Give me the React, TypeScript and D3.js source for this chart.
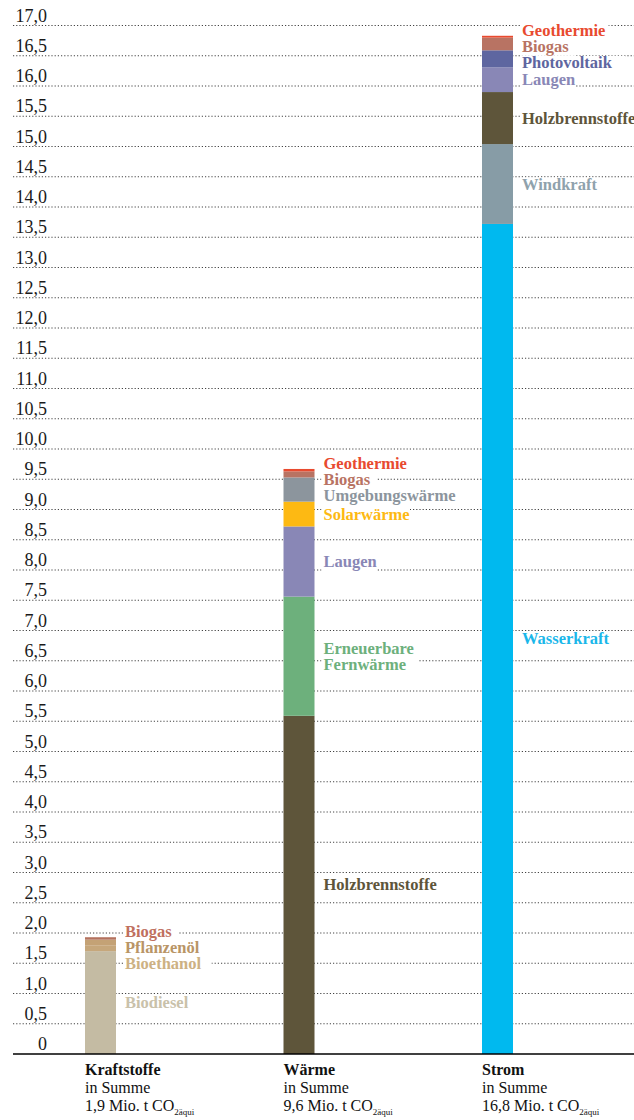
import React from "react";
import * as d3 from "d3";

const categories = ["Kraftstoffe", "Wärme", "Strom"];
const totalLabels = ["1,9", "9,6", "16,8"];

const kraftstoffeSources = ["Biodiesel", "Bioethanol", "Pflanzenöl", "Biogas"];
const kraftstoffeValues = [1.7, 0.09, 0.1, 0.04];
const kraftstoffeColors = ["#c4bba3", "#c6a77b", "#c4a275", "#b4725e"];
const kraftstoffeLabelColors = ["#c9c1aa", "#cdb183", "#b99566", "#c0705f"];

const waermeSources = ["Holzbrennstoffe", "Erneuerbare\nFernwärme", "Laugen", "Solarwärme", "Umgebungswärme", "Biogas", "Geothermie"];
const waermeValues = [5.59, 1.97, 1.16, 0.41, 0.4, 0.1, 0.04];
const waermeColors = ["#5e553a", "#6db07c", "#8987b6", "#fdb913", "#8c959d", "#b87363", "#e84a2f"];
const waermeLabelColors = ["#5e553a", "#6db07c", "#8987b6", "#fdb913", "#8c959d", "#b87363", "#e84a2f"];

const stromSources = ["Wasserkraft", "Windkraft", "Holzbrennstoffe", "Laugen", "Photovoltaik", "Biogas", "Geothermie"];
const stromValues = [13.72, 1.32, 0.86, 0.41, 0.28, 0.21, 0.03];
const stromColors = ["#00b9ef", "#879ca6", "#5e553a", "#8987b6", "#5e66a0", "#b87363", "#e84a2f"];
const stromLabelColors = ["#1bb7ea", "#8fa2ac", "#5e553a", "#8987b6", "#5e66a0", "#b87363", "#e84a2f"];

const yTicks = d3.range(0, 17.01, 0.5);

const W = 634;
const H = 1120;
const SERIF = "'Liberation Serif', 'Times New Roman', serif";

const groups = [
  { sources: kraftstoffeSources, values: kraftstoffeValues, colors: kraftstoffeColors, labelColors: kraftstoffeLabelColors },
  { sources: waermeSources, values: waermeValues, colors: waermeColors, labelColors: waermeLabelColors },
  { sources: stromSources, values: stromValues, colors: stromColors, labelColors: stromLabelColors },
];

export default function App() {
  const y = d3.scaleLinear().domain([0, 17]).range([1054, 25.5]);
  const x = d3.scalePoint<string>().domain(categories).range([100.5, 497.5]);
  const barW = 31;
  const gridX0 = 13;
  const labelFont = 16.5;
  const lineStep = 16;
  const fmt = (v: number) => (v === 0 ? "0" : d3.format(".1f")(v).replace(".", ","));

  const bars: any[] = [];
  const labels: any[] = [];

  groups.forEach((g, gi) => {
    const cat = categories[gi];
    const cx = x(cat)!;
    const x0 = cx - barW / 2;
    const ends = Array.from(d3.cumsum(g.values));
    const segs = g.values.map((v, i) => {
      const lo = i === 0 ? 0 : ends[i - 1];
      const hi = ends[i];
      return { name: g.sources[i], color: g.colors[i], labelColor: g.labelColors[i], y0: y(hi), y1: y(lo) };
    });
    segs.forEach((s, i) => bars.push({ key: `${gi}-${i}`, x: x0, y: s.y0, h: s.y1 - s.y0, color: s.color }));

    // label layout: top-down
    const ordered = segs.slice().reverse();
    let prev = -Infinity;
    let prevLines = 0;
    ordered.forEach((s, i) => {
      const lines = s.name.split("\n");
      const center = (s.y0 + s.y1) / 2;
      const ideal = center - ((lines.length - 1) * lineStep) / 2 + 5.5;
      let b: number;
      if (i === 0 && s.y1 - s.y0 < lineStep) b = s.y0;
      else b = Math.max(ideal, prev + prevLines * lineStep);
      prev = b;
      prevLines = lines.length;
      labels.push({ key: `${gi}-l${i}`, x: x0 + barW + 9, baseline: b, lines, color: s.labelColor });
    });
  });

  return (
    <svg width={W} height={H} style={{ position: "absolute", left: 0, top: 0, background: "#fff" }}>
      <rect x={0} y={0} width={W} height={H} fill="#fff" />
      {/* grid */}
      {yTicks.filter((t) => t > 0).map((t) => (
        <line key={`g${t}`} x1={gridX0} x2={W} y1={y(t)} y2={y(t)} stroke="#444" strokeWidth={1.1} strokeDasharray="1.2,2" />
      ))}
      {/* tick labels */}
      {yTicks.map((t) => (
        <text key={`t${t}`} x={47} y={y(t) - 4} textAnchor="end" fontFamily={SERIF} fontSize={18} fill="#1a1a1a">
          {fmt(t)}
        </text>
      ))}
      {/* bars */}
      {bars.map((b) => (
        <rect key={b.key} x={b.x} y={b.y} width={barW} height={Math.max(0, b.h)} fill={b.color} />
      ))}
      {/* labels */}
      {labels.map((l) => {
        const maxLen = d3.max(l.lines as string[], (s) => s.length) || 0;
        const w = maxLen * labelFont * 0.5 + 6;
        const top = l.baseline - 12;
        const h = (l.lines.length - 1) * lineStep + 16;
        return (
          <g key={l.key}>
            <rect x={l.x - 2} y={top} width={w} height={h} fill="#fff" />
            {l.lines.map((s: string, i: number) => (
              <text key={i} x={l.x} y={l.baseline + i * lineStep} fontFamily={SERIF} fontWeight="bold" fontSize={labelFont} fill={l.color}>
                {s}
              </text>
            ))}
          </g>
        );
      })}
      {/* axis */}
      <line x1={gridX0} x2={W} y1={y(0)} y2={y(0)} stroke="#000" strokeWidth={1.6} />
      {/* category labels */}
      {categories.map((c, i) => {
        const lx = x(c)! - barW / 2;
        return (
          <g key={`c${c}`} fontFamily={SERIF} fontSize={16} fill="#111">
            <text x={lx} y={1075} fontWeight="bold">{c}</text>
            <text x={lx} y={1093}>in Summe</text>
            <text x={lx} y={1111}>
              {totalLabels[i]} Mio. t CO
              <tspan fontSize={9} dy={4}>2äqui</tspan>
            </text>
          </g>
        );
      })}
    </svg>
  );
}
